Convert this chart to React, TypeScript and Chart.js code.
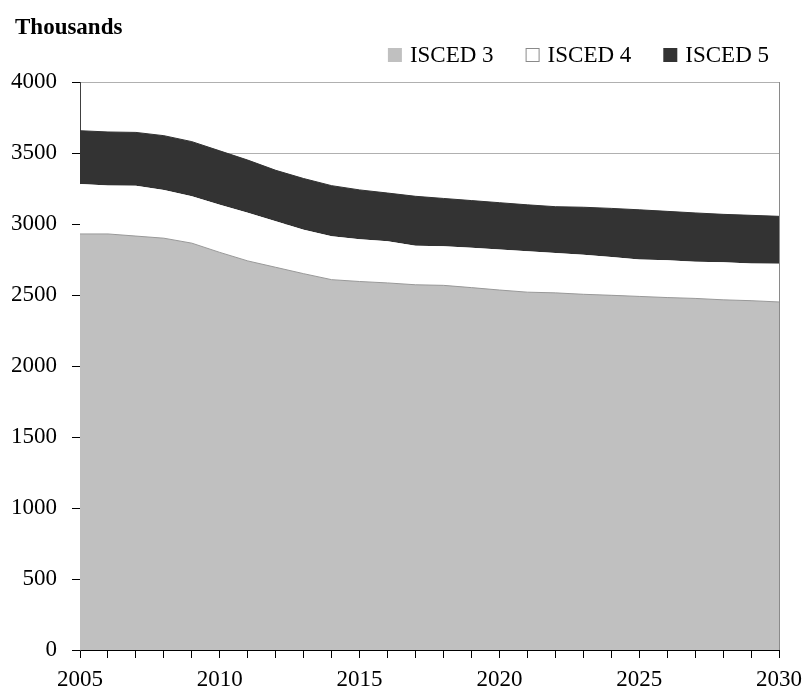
import React, { useEffect, useRef } from 'react';
import { Chart, registerables } from 'chart.js';

Chart.register(...registerables);

const titleText = 'Thousands';
const years = ['2005','2006','2007','2008','2009','2010','2011','2012','2013','2014','2015','2016','2017','2018','2019','2020','2021','2022','2023','2024','2025','2026','2027','2028','2029','2030'];
const labeledYears = ['2005','2010','2015','2020','2025','2030'];
const seriesNames = ['ISCED 3', 'ISCED 4', 'ISCED 5'];
const isced3 = [2930,2930,2915,2900,2865,2800,2740,2695,2650,2608,2595,2585,2572,2568,2552,2535,2520,2515,2505,2498,2490,2482,2476,2466,2460,2451];
const isced4 = [352,342,355,340,330,335,340,325,310,305,297,293,275,275,280,285,288,281,279,270,260,263,259,264,262,269];
const isced5 = [375,376,375,382,385,380,370,358,360,357,348,340,348,337,333,330,327,326,334,342,350,344,343,338,339,334];
const yMin = 0;
const yMax = 4000;
const yStep = 500;

const FONT = '"Liberation Serif", "Times New Roman", serif';

const headerPlugin = {
  id: 'header',
  afterDraw(chart: any) {
    const ctx = chart.ctx as CanvasRenderingContext2D;
    ctx.save();
    ctx.fillStyle = '#000';
    ctx.textAlign = 'left';
    ctx.textBaseline = 'alphabetic';
    ctx.font = `bold 23px ${FONT}`;
    ctx.fillText(titleText, 15, 34);

    ctx.font = `23px ${FONT}`;
    ctx.textBaseline = 'middle';
    const box = 14;
    const gapBT = 8;
    const gapItem = 32;
    const ds = chart.data.datasets;
    const widths = ds.map((d: any) => ctx.measureText(d.label).width);
    let total = 0;
    widths.forEach((w: number, i: number) => {
      total += box + gapBT + w + (i < widths.length - 1 ? gapItem : 0);
    });
    let x = 769 - total;
    const cy = 55;
    ds.forEach((d: any, i: number) => {
      ctx.fillStyle = d.backgroundColor;
      ctx.fillRect(x, cy - box / 2, box, box);
      if (d.legendBorder) {
        ctx.strokeStyle = d.legendBorder;
        ctx.lineWidth = 1;
        ctx.strokeRect(x + 0.5, cy - box / 2 + 0.5, box - 1, box - 1);
      }
      ctx.fillStyle = '#000';
      ctx.fillText(d.label, x + box + gapBT, cy + 1);
      x += box + gapBT + widths[i] + gapItem;
    });
    ctx.restore();
  },
};

export default function App() {
  const ref = useRef<HTMLCanvasElement | null>(null);
  useEffect(() => {
    document.body.style.margin = '0';
    if (!ref.current) return;
    const chart = new Chart(ref.current, {
      type: 'line',
      data: {
        labels: years,
        datasets: [
          {
            label: seriesNames[0],
            data: isced3,
            backgroundColor: '#c0c0c0',
            borderColor: '#999999',
            borderWidth: 1,
            fill: 'origin',
            pointRadius: 0,
            tension: 0,
            legendBorder: null,
          } as any,
          {
            label: seriesNames[1],
            data: isced4,
            backgroundColor: '#ffffff',
            borderColor: '#ffffff',
            borderWidth: 0,
            fill: '-1',
            pointRadius: 0,
            tension: 0,
            legendBorder: '#8a8a8a',
          } as any,
          {
            label: seriesNames[2],
            data: isced5,
            backgroundColor: '#333333',
            borderColor: '#333333',
            borderWidth: 1,
            fill: '-1',
            pointRadius: 0,
            tension: 0,
            legendBorder: null,
          } as any,
        ],
      },
      options: {
        animation: false,
        responsive: false,
        maintainAspectRatio: false,
        layout: { padding: { left: 0, right: 26, top: 82, bottom: 0 } },
        plugins: {
          legend: { display: false },
          title: { display: false },
          tooltip: { enabled: false },
        },
        scales: {
          x: {
            type: 'category',
            offset: false,
            afterFit: (s: any) => { s.height = 43; s.paddingRight = 0; s.paddingLeft = 0; },
            grid: {
              drawOnChartArea: true,
              tickLength: 8,
              tickColor: '#000000',
              color: (c: any) => (c.index === years.length - 1 ? '#8a8a8a' : 'rgba(0,0,0,0)'),
            },
            border: { color: '#000000', width: 1 },
            ticks: {
              autoSkip: false,
              maxRotation: 0,
              minRotation: 0,
              padding: 8,
              color: '#000',
              font: { family: FONT, size: 23 },
              callback: (_v: any, i: number) => (labeledYears.includes(years[i]) ? years[i] : ''),
            },
          },
          y: {
            stacked: true,
            min: yMin,
            max: yMax,
            afterFit: (s: any) => { s.width = 80; s.paddingTop = 0; s.paddingBottom = 0; },
            grid: {
              color: '#b0b0b0',
              tickLength: 8,
              tickColor: '#000000',
            },
            border: { color: '#404040', width: 1 },
            ticks: {
              stepSize: yStep,
              padding: 15,
              color: '#000',
              font: { family: FONT, size: 23 },
              callback: (v: any) => String(v),
            },
          },
        },
      },
      plugins: [headerPlugin],
    });
    return () => chart.destroy();
  }, []);
  return (
    <div style={{ position: 'absolute', left: 0, top: 0, width: 805, height: 693 }}>
      <canvas ref={ref} width={805} height={693} style={{ display: 'block' }} />
    </div>
  );
}
